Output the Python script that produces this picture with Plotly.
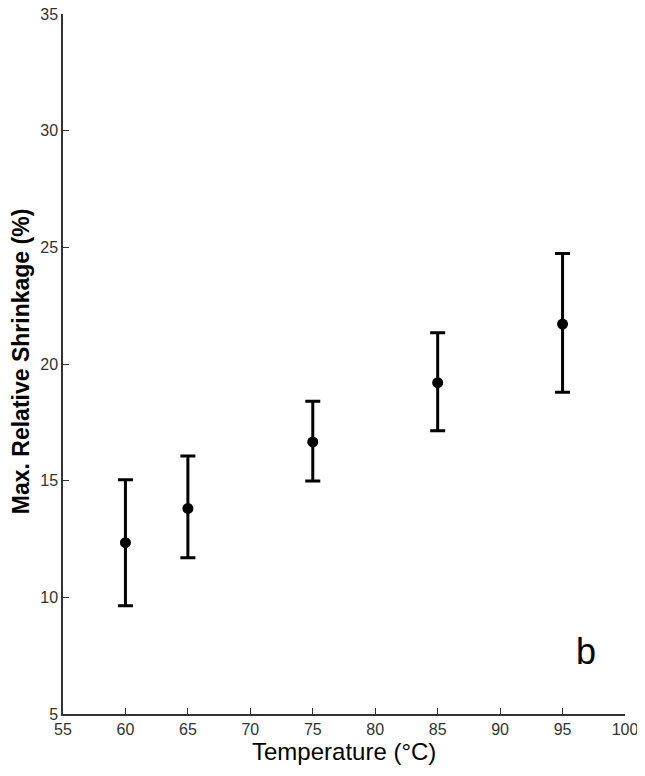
import plotly.graph_objects as go

temperature = [60, 65, 75, 85, 95]
shrinkage = [12.34, 13.81, 16.66, 19.20, 21.71]
err_upper = [15.04, 16.06, 18.40, 21.34, 24.74]
err_lower = [9.64, 11.70, 14.99, 17.14, 18.79]

x_ticks = [55, 60, 65, 70, 75, 80, 85, 90, 95, 100]
y_ticks = [5, 10, 15, 20, 25, 30, 35]

plus = [u - m for u, m in zip(err_upper, shrinkage)]
minus = [m - l for m, l in zip(shrinkage, err_lower)]

fig = go.Figure()
fig.add_trace(go.Scatter(
    x=temperature, y=shrinkage, mode="markers",
    marker=dict(color="black", size=11),
    error_y=dict(type="data", symmetric=False, array=plus, arrayminus=minus,
                 color="black", thickness=3, width=7.5),
    showlegend=False,
))

fig.add_annotation(x=96.9, y=7.7, text="b", showarrow=False,
                   font=dict(family="Arial, Liberation Sans", size=36, color="black"))

# axis titles
fig.add_annotation(x=0.5, y=0, xref="paper", yref="paper", yanchor="middle",
                   yshift=-37, text="Temperature (°C)", showarrow=False,
                   font=dict(family="Arial, Liberation Sans", size=24, color="black"))
fig.add_annotation(x=0, y=0.504, xref="paper", yref="paper", xanchor="center",
                   xshift=-42, textangle=-90, text="<b>Max. Relative Shrinkage (%)</b>",
                   showarrow=False,
                   font=dict(family="Arial, Liberation Sans", size=23, color="black"))

axis_font = dict(family="Arial, Liberation Sans", size=16, color="#333333")
fig.update_layout(
    width=637, height=768,
    margin=dict(l=54.5, r=20, t=6, b=62),
    paper_bgcolor="white", plot_bgcolor="white",
    xaxis=dict(range=[55, 100], tickvals=x_ticks, ticks="inside", ticklen=6,
               tickcolor="#333333", showline=True, linecolor="#333333", linewidth=1.5,
               showgrid=False, zeroline=False, tickfont=axis_font, automargin=False,
               ticklabeloverflow="allow"),
    yaxis=dict(range=[5, 35], tickvals=y_ticks, ticks="inside", ticklen=6,
               tickcolor="#333333", showline=True, linecolor="#333333", linewidth=1.5,
               showgrid=False, zeroline=False, tickfont=axis_font, automargin=False,
               ticklabeloverflow="allow"),
)

fig.write_html("out.html")
